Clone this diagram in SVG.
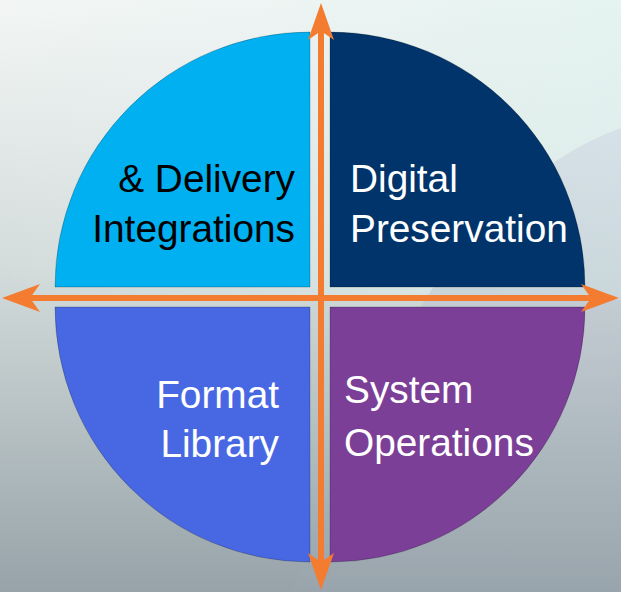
<svg xmlns="http://www.w3.org/2000/svg" width="621" height="592" viewBox="0 0 621 592">
  <defs>
    <linearGradient id="bg" x1="0" y1="0" x2="0" y2="1">
      <stop offset="0" stop-color="#f3f6f5"/>
      <stop offset="0.45" stop-color="#d3dcdb"/>
      <stop offset="1" stop-color="#97a3a9"/>
    </linearGradient>
    <linearGradient id="mint" x1="0" y1="0" x2="1" y2="0">
      <stop offset="0" stop-color="#e4f2f0" stop-opacity="0"/>
      <stop offset="1" stop-color="#dff2ef" stop-opacity="0.9"/>
    </linearGradient>
    <linearGradient id="panel" x1="0" y1="0" x2="0" y2="1">
      <stop offset="0" stop-color="#cad3e0"/>
      <stop offset="1" stop-color="#9aa5ae"/>
    </linearGradient>
    <style>
      .q { stroke: #000; stroke-opacity: 0.22; stroke-width: 1; }
      .lbl { font-family: "Liberation Sans", Arial, sans-serif; font-size: 38.8px; }
      .dark { fill: #000000; }
      .light { fill: #ffffff; }
      .arrow { fill: #f47c30; }
    </style>
  </defs>

  <g id="background">
    <rect x="0" y="0" width="621" height="592" fill="url(#bg)"/>
    <rect x="0" y="0" width="621" height="300" fill="url(#mint)" opacity="0.8"/>
    <path d="M621,128 Q 420,200 293,592 L621,592 Z" fill="url(#panel)" opacity="0.5"/>
  </g>

  <g id="node-integrations">
    <path class="q" d="M310,287 L55,287 A255,255 0 0 1 310,32 Z" fill="#00b0f0"/>
    <text class="lbl dark" x="295" y="192" text-anchor="end">&amp; Delivery</text>
    <text class="lbl dark" x="295" y="242" text-anchor="end">Integrations</text>
  </g>

  <g id="node-preservation">
    <path class="q" d="M330,287 L330,32 A255,255 0 0 1 585,287 Z" fill="#00346b"/>
    <text class="lbl light" x="350" y="192">Digital</text>
    <text class="lbl light" x="350" y="242">Preservation</text>
  </g>

  <g id="node-format">
    <path class="q" d="M310,307 L310,562 A255,255 0 0 1 55,307 Z" fill="#4868e3"/>
    <text class="lbl light" x="279" y="408" text-anchor="end">Format</text>
    <text class="lbl light" x="279" y="457" text-anchor="end">Library</text>
  </g>

  <g id="node-operations">
    <path class="q" d="M330,307 L585,307 A255,255 0 0 1 330,562 Z" fill="#7b3f98"/>
    <text class="lbl light" x="344" y="403">System</text>
    <text class="lbl light" x="344" y="456">Operations</text>
  </g>

  <g id="connectors">
    <rect class="arrow" x="30" y="295" width="561" height="6"/>
    <rect class="arrow" x="318" y="31" width="6" height="532"/>
    <polygon class="arrow" points="321,3 334,40 321,31 308,40"/>
    <polygon class="arrow" points="321,590 334,553 321,562 308,553"/>
    <polygon class="arrow" points="2,298 40,284 30,298 40,312"/>
    <polygon class="arrow" points="619,298 581,284 591,298 581,312"/>
  </g>
</svg>
